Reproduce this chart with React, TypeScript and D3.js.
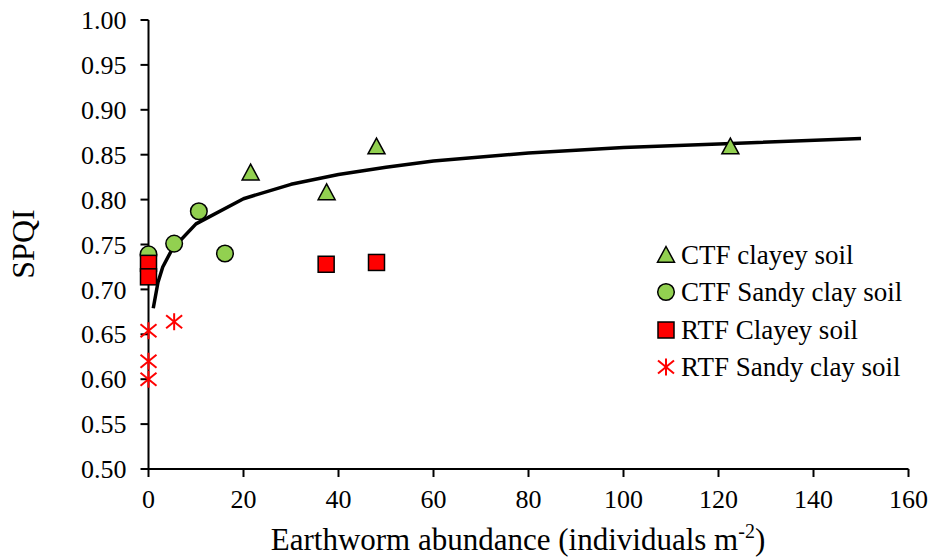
import React from "react";
import * as d3 from "d3";

// ---- Data ----
const ctfClayeyX = [21.5, 37.5, 48, 122.5];
const ctfClayeyY = [0.83, 0.808, 0.859, 0.859];

const ctfSandyX = [0, 5.4, 10.6, 16.1];
const ctfSandyY = [0.739, 0.751, 0.787, 0.74];

const rtfClayeyX = [0, 0, 37.4, 48];
const rtfClayeyY = [0.729, 0.714, 0.728, 0.73];

const rtfSandyX = [0, 0, 0, 5.4];
const rtfSandyY = [0.654, 0.62, 0.6, 0.664];

const trendX = [1, 2, 3, 5, 10, 20, 30, 40, 50, 60, 80, 100, 120, 150];
const trendY = [0.679, 0.708, 0.725, 0.745, 0.773, 0.801, 0.817, 0.828, 0.836, 0.843, 0.852, 0.858, 0.862, 0.868];

const xTicks = [0, 20, 40, 60, 80, 100, 120, 140, 160];
const yTicks = [0.5, 0.55, 0.6, 0.65, 0.7, 0.75, 0.8, 0.85, 0.9, 0.95, 1.0];

const legendLabels = ["CTF clayey soil", "CTF Sandy clay soil", "RTF Clayey soil", "RTF Sandy clay soil"];

const W = 929;
const H = 558;
const FONT = '"Liberation Serif", "Times New Roman", Times, serif';
const GREEN = "#92D050";
const RED = "#FF0000";

const x = d3.scaleLinear().domain([0, 160]).range([148.5, 908.5]);
const y = d3.scaleLinear().domain([0.5, 1.0]).range([469, 20]);

function Triangle({ cx, cy }: { cx: number; cy: number }) {
  const s = 8.5;
  return (
    <path
      d={`M${cx},${cy - s}L${cx + s},${cy + s * 0.85}L${cx - s},${cy + s * 0.85}Z`}
      fill={GREEN}
      stroke="#000"
      strokeWidth={1.5}
    />
  );
}
function Circle({ cx, cy }: { cx: number; cy: number }) {
  return <circle cx={cx} cy={cy} r={8.3} fill={GREEN} stroke="#000" strokeWidth={1.5} />;
}
function Square({ cx, cy }: { cx: number; cy: number }) {
  const s = 8;
  return <rect x={cx - s} y={cy - s} width={2 * s} height={2 * s} fill={RED} stroke="#000" strokeWidth={1.5} />;
}
function Star({ cx, cy }: { cx: number; cy: number }) {
  const s = 8.5;
  const dx = 8;
  const dy = 6.5;
  return (
    <g stroke={RED} strokeWidth={2} fill="none">
      <line x1={cx - dx} y1={cy - dy} x2={cx + dx} y2={cy + dy} />
      <line x1={cx - dx} y1={cy + dy} x2={cx + dx} y2={cy - dy} />
      <line x1={cx} y1={cy - s} x2={cx} y2={cy + s} />
    </g>
  );
}

export default function App() {
  const line = d3
    .line<number>()
    .x((_, i) => x(trendX[i]))
    .y((v) => y(v));
  const legendMarkers = [Triangle, Circle, Square, Star];
  const legendY = [255, 292, 330, 367];

  return (
    <svg
      width={W}
      height={H}
      style={{ position: "absolute", left: 0, top: 0, background: "#fff", fontFamily: FONT }}
    >
      <rect width={W} height={H} fill="#fff" />
      {/* axes */}
      <line x1={x(0)} y1={y(1)} x2={x(0)} y2={y(0.5)} stroke="#000" strokeWidth={2} />
      <line x1={x(0)} y1={y(0.5)} x2={x(160)} y2={y(0.5)} stroke="#000" strokeWidth={2} />
      {yTicks.map((t) => (
        <g key={"y" + t}>
          <line x1={x(0) - 8} x2={x(0)} y1={y(t)} y2={y(t)} stroke="#000" strokeWidth={2} />
          <text x={126.5} y={y(t)} dy="0.35em" textAnchor="end" fontSize={26}>
            {t.toFixed(2)}
          </text>
        </g>
      ))}
      {xTicks.map((t) => (
        <g key={"x" + t}>
          <line x1={x(t)} x2={x(t)} y1={y(0.5)} y2={y(0.5) + 8} stroke="#000" strokeWidth={2} />
          <text x={x(t)} y={508} textAnchor="middle" fontSize={26}>
            {t}
          </text>
        </g>
      ))}
      <text x={518} y={550} textAnchor="middle" fontSize={31}>
        Earthworm abundance (individuals m
        <tspan fontSize={20} dy={-12}>-2</tspan>
        <tspan dy={12}>)</tspan>
      </text>
      <text transform={`translate(34,244) rotate(-90)`} textAnchor="middle" fontSize={32}>
        SPQI
      </text>

      {/* trend line */}
      <path d={line(trendY) || ""} fill="none" stroke="#000" strokeWidth={3.5} strokeLinejoin="round" />

      {/* points */}
      {ctfSandyX.map((v, i) => (
        <Circle key={"c" + i} cx={x(v)} cy={y(ctfSandyY[i])} />
      ))}
      {ctfClayeyX.map((v, i) => (
        <Triangle key={"t" + i} cx={x(v)} cy={y(ctfClayeyY[i])} />
      ))}
      {rtfClayeyX.map((v, i) => (
        <Square key={"s" + i} cx={x(v)} cy={y(rtfClayeyY[i])} />
      ))}
      {rtfSandyX.map((v, i) => (
        <Star key={"a" + i} cx={x(v)} cy={y(rtfSandyY[i])} />
      ))}

      {/* legend */}
      {legendLabels.map((lab, i) => {
        const M = legendMarkers[i];
        return (
          <g key={lab}>
            <M cx={666} cy={legendY[i]} />
            <text x={681} y={legendY[i]} dy="0.35em" fontSize={27}>
              {lab}
            </text>
          </g>
        );
      })}
    </svg>
  );
}
